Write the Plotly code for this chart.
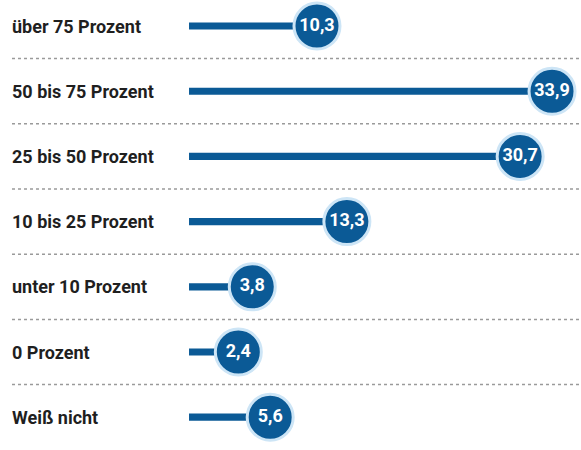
import plotly.graph_objects as go

categories = ['über 75 Prozent', '50 bis 75 Prozent', '25 bis 50 Prozent', '10 bis 25 Prozent',
              'unter 10 Prozent', '0 Prozent', 'Weiß nicht']
values = [10.3, 33.9, 30.7, 13.3, 3.8, 2.4, 5.6]
value_labels = [f'{v:.1f}'.replace('.', ',') for v in values]

blue = '#0b5a96'
font_fam = 'Roboto, Arial'
rows = list(range(len(categories)))

fig = go.Figure()
fig.add_trace(go.Bar(
    x=[v + 2.55 for v in values], y=rows, base=-2.55, orientation='h',
    width=0.11, marker=dict(color=blue, line_width=0), hoverinfo='skip'))
fig.add_trace(go.Scatter(
    x=values, y=rows, mode='markers+text', text=value_labels,
    textposition='middle center',
    textfont=dict(color='white', size=18, family=font_fam, weight='bold'),
    marker=dict(size=46, color=blue, line=dict(color='#cde5f6', width=3)),
    hoverinfo='skip'))

for i, c in enumerate(categories):
    fig.add_annotation(x=12 / 581, xref='paper', y=i, yref='y', text=c,
                       showarrow=False, xanchor='left', xshift=-2,
                       font=dict(size=18, color='#1f1f1f', family=font_fam, weight='bold'))
for i in rows[:-1]:
    fig.add_shape(type='line', xref='paper', x0=12 / 581, x1=1, yref='y', y0=i + 0.5, y1=i + 0.5,
                  line=dict(color='#9a9a9a', width=1.5, dash='dot'))

fig.update_layout(
    width=581, height=450, margin=dict(l=0, r=0, t=0, b=0),
    plot_bgcolor='white', paper_bgcolor='white', showlegend=False,
    xaxis=dict(range=[-21.53, 36.81], visible=False, fixedrange=True),
    yaxis=dict(range=[6.503, -0.399], visible=False, fixedrange=True),
)
fig.write_html('out.html', config={'displayModeBar': False},
               post_script="document.body.style.margin='0';")
